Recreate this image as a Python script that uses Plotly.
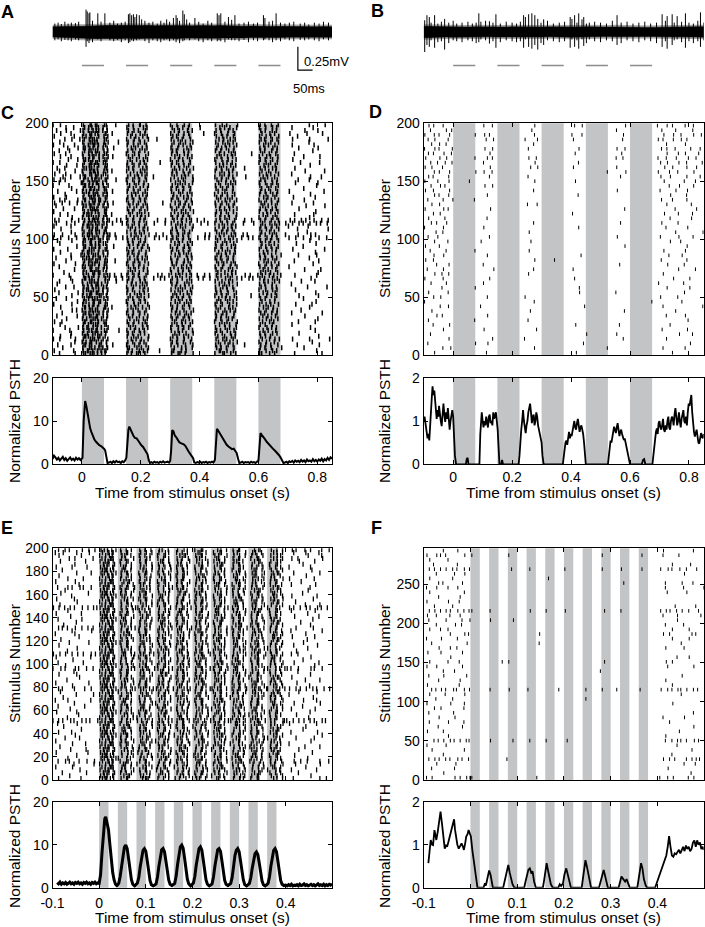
import plotly.graph_objects as go

W, H = 705, 927
FONT = "Liberation Sans, Arial, Helvetica, sans-serif"
GRAY = '#c3c4c6'

# stimulus timing
CD_STIM_ON = [0.0, 0.15, 0.30, 0.45, 0.60]
CD_STIM_DUR = 0.075
EF_STIM_ON = [0.0, 0.04, 0.08, 0.12, 0.16, 0.20, 0.24, 0.28, 0.32, 0.36]
EF_STIM_DUR = 0.02

CD_XRANGE = [-0.1, 0.85]
EF_XRANGE = [-0.1, 0.499]
CD_XTICKS = [0, 0.2, 0.4, 0.6, 0.8]
CD_XTEXT = ['0', '0.2', '0.4', '0.6', '0.8']
EF_XTICKS = [-0.1, 0, 0.1, 0.2, 0.3, 0.4]
EF_XTEXT = ['-0.1', '0', '0.1', '0.2', '0.3', '0.4']

# ---------------- A / B : raw traces (mV) ----------------
ENV_T = [-0.1, -0.075, -0.05, -0.025, 0.0, 0.025, 0.05, 0.075, 0.1, 0.125, 0.15, 0.175, 0.2, 0.225,
         0.25, 0.275, 0.3, 0.325, 0.35, 0.375, 0.4, 0.425, 0.45, 0.475, 0.5, 0.525, 0.55, 0.575,
         0.6, 0.625, 0.65, 0.675, 0.7, 0.725, 0.75, 0.775, 0.8, 0.825, 0.85]
A_HI = [0.055, 0.06, 0.058, 0.062, 0.06, 0.065, 0.07, 0.068, 0.072, 0.07, 0.066, 0.07, 0.068, 0.072,
        0.066, 0.07, 0.068, 0.065, 0.07, 0.066, 0.068, 0.064, 0.066, 0.068, 0.064, 0.066, 0.062, 0.064,
        0.06, 0.062, 0.058, 0.06, 0.058, 0.056, 0.06, 0.058, 0.056, 0.058, 0.055]
A_LO = [-0.055, -0.058, -0.06, -0.058, -0.062, -0.068, -0.072, -0.07, -0.068, -0.072, -0.068, -0.066,
        -0.07, -0.068, -0.072, -0.066, -0.068, -0.07, -0.066, -0.068, -0.064, -0.066, -0.068, -0.064,
        -0.066, -0.062, -0.064, -0.06, -0.062, -0.06, -0.058, -0.06, -0.056, -0.058, -0.06, -0.056,
        -0.058, -0.055, -0.056]
B_HI = [0.06, 0.058, 0.055, 0.058, 0.054, 0.056, 0.052, 0.055, 0.053, 0.056, 0.054, 0.052, 0.055, 0.053,
        0.056, 0.054, 0.052, 0.055, 0.053, 0.056, 0.054, 0.052, 0.055, 0.053, 0.05, 0.052, 0.054, 0.05,
        0.052, 0.05, 0.048, 0.05, 0.052, 0.055, 0.053, 0.056, 0.054, 0.056, 0.055]
B_LO = [-0.062, -0.058, -0.056, -0.054, -0.057, -0.055, -0.053, -0.056, -0.054, -0.052, -0.055, -0.057,
        -0.053, -0.055, -0.052, -0.056, -0.054, -0.052, -0.055, -0.053, -0.056, -0.054, -0.052, -0.055,
        -0.053, -0.05, -0.052, -0.054, -0.05, -0.052, -0.05, -0.048, -0.052, -0.054, -0.056, -0.053,
        -0.055, -0.054, -0.056]

A_SPK_T = [0.014, 0.018, 0.024, 0.027, 0.054, 0.078, 0.158, 0.163, 0.169, 0.175, 0.180, 0.186, 0.195, 0.203,
           0.288, 0.311, 0.320, 0.324, 0.343, 0.348, 0.356, 0.384, 0.460, 0.466, 0.472, 0.498, 0.520, 0.617,
           0.622, 0.660,
           -0.092, -0.081, -0.07, -0.058, -0.047, -0.036, -0.022, -0.011, 0.036, 0.065, 0.095, 0.108, 0.121,
           0.134, 0.147, 0.214, 0.228, 0.241, 0.256, 0.268, 0.279, 0.298, 0.332, 0.366, 0.397, 0.412, 0.428,
           0.441, 0.486, 0.509, 0.534, 0.551, 0.566, 0.583, 0.597, 0.636, 0.648, 0.675, 0.69, 0.705, 0.72,
           0.742, 0.757, 0.771, 0.79, 0.806, 0.821, 0.838]
A_SPK_TOP = [0.24, 0.22, 0.2, 0.21, 0.2, 0.2, 0.19, 0.2, 0.18, 0.19, 0.16, 0.19, 0.18, 0.135, 0.135, 0.15,
             0.18, 0.15, 0.23, 0.19, 0.135, 0.15, 0.2, 0.18, 0.2, 0.16, 0.18, 0.18, 0.15, 0.2,
             0.09, 0.1, 0.085, 0.11, 0.09, 0.1, 0.095, 0.11, 0.12, 0.11, 0.1, 0.12, 0.09, 0.1, 0.11,
             0.12, 0.1, 0.11, 0.09, 0.12, 0.1, 0.11, 0.12, 0.1, 0.11, 0.09, 0.12, 0.1, 0.11, 0.13, 0.09,
             0.1, 0.11, 0.09, 0.1, 0.11, 0.12, 0.1, 0.09, 0.1, 0.11, 0.09, 0.1, 0.08, 0.1, 0.09, 0.11, 0.1]
A_SPK_BOT = [-0.16, -0.1, -0.12, -0.09, -0.08, -0.07, -0.12, -0.11, -0.09, -0.1, -0.08, -0.09, -0.08, -0.07,
             -0.08, -0.09, -0.11, -0.08, -0.1, -0.09, -0.07, -0.08, -0.1, -0.09, -0.1, -0.08, -0.09, -0.09,
             -0.08, -0.09,
             -0.09, -0.08, -0.1, -0.085, -0.09, -0.1, -0.08, -0.09, -0.11, -0.1, -0.09, -0.1, -0.085, -0.11,
             -0.09, -0.1, -0.12, -0.09, -0.1, -0.11, -0.09, -0.1, -0.12, -0.09, -0.1, -0.11, -0.09, -0.1,
             -0.11, -0.09, -0.1, -0.085, -0.11, -0.09, -0.1, -0.09, -0.11, -0.1, -0.08, -0.09, -0.1, -0.085,
             -0.09, -0.08, -0.09, -0.1, -0.08, -0.09]

B_SPK_T = [-0.0966, -0.089, -0.081, -0.063, -0.029, 0.087, 0.094, 0.123, 0.145, 0.239, 0.245, 0.256, 0.267,
           0.277, 0.287, 0.307, 0.397, 0.403, 0.412, 0.426, 0.437, 0.443, 0.462, 0.556, 0.709, 0.726, 0.743,
           0.760, 0.788, 0.839,
           -0.075, -0.052, -0.04, -0.015, 0.0, 0.012, 0.03, 0.05, 0.065, 0.078, 0.11, 0.135, 0.16, 0.18,
           0.2, 0.215, 0.228, 0.298, 0.32, 0.34, 0.36, 0.378, 0.42, 0.452, 0.48, 0.5, 0.52, 0.54, 0.57,
           0.59, 0.61, 0.63, 0.65, 0.67, 0.69, 0.72, 0.75, 0.775, 0.8, 0.815, 0.83, 0.85]
B_SPK_TOP = [0.125, 0.18, 0.16, 0.18, 0.14, 0.2, 0.11, 0.115, 0.19, 0.18, 0.16, 0.19, 0.2, 0.18, 0.14, 0.135,
             0.16, 0.14, 0.18, 0.2, 0.135, 0.16, 0.1, 0.18, 0.19, 0.17, 0.19, 0.17, 0.2, 0.21,
             0.1, 0.09, 0.11, 0.1, 0.12, 0.09, 0.1, 0.11, 0.09, 0.1, 0.12, 0.1, 0.09, 0.11, 0.1, 0.09,
             0.11, 0.1, 0.12, 0.09, 0.1, 0.11, 0.1, 0.09, 0.11, 0.1, 0.09, 0.12, 0.1, 0.11, 0.09, 0.1,
             0.11, 0.09, 0.1, 0.12, 0.1, 0.11, 0.1, 0.09, 0.12, 0.1]
B_SPK_BOT = [-0.215, -0.14, -0.16, -0.17, -0.19, -0.11, -0.08, -0.125, -0.17, -0.17, -0.08, -0.16, -0.18,
             -0.14, -0.19, -0.14, -0.17, -0.08, -0.16, -0.18, -0.08, -0.15, -0.08, -0.14, -0.16, -0.18,
             -0.14, -0.08, -0.17, -0.16,
             -0.09, -0.11, -0.1, -0.12, -0.09, -0.1, -0.11, -0.09, -0.1, -0.12, -0.09, -0.1, -0.11, -0.09,
             -0.1, -0.11, -0.1, -0.12, -0.09, -0.1, -0.11, -0.1, -0.09, -0.12, -0.1, -0.11, -0.09, -0.1,
             -0.12, -0.09, -0.1, -0.11, -0.09, -0.1, -0.12, -0.1, -0.09, -0.11, -0.1, -0.12, -0.1, -0.09]

SCALE_MV = 0.25
SCALE_S = 0.05

# ---------------- rasters ----------------
# each row = group of trials; space separated segments starting at the bin given in *_SEG_START;
# a digit marks a spike at (bin start + digit ms), '.' no spike, '-' an empty segment
CD_SEG_START = [0, 10, 19, 25, 34, 40, 49, 55, 64, 70, 79]
CD_BIN = 0.01
EF_SEG_START = [0, 20, 28, 36, 44, 52, 60, 68, 76, 84, 92, 100]
EF_BIN = 0.005

C_ROWS = [
    "..4....7.. 62851379. - 38.62.4.. - 5.73.1.8. - 2.94.6.3. - 41.8.5... ...3........6...",
    "6......2.. 4917.3582 - 7.1.59.3. ..4... 62.8.4... - .71.3.5.. - 3.6.8.2.. ..........8.....",
    "...5...... 3.6248.17 - 51.7.2.6. - .4.9.3.5. - 8.3.1.7.. - 6.2.4..9. ......5.........",
    ".8....3... 7263.95.4 .5.... 2.9.4.8.. - 3.6..2.7. - 5.1.7.4.. .3.... 8.5.2.6.. ....2......7....",
    ".......6.. 14829.6.3 - 6.3.8.1.. - 7.2.5.9.. - .4.6.3.8. - 2.7..4... .........3......",
    "3.5....8.. 5.9736.28 - .8.4.2.5. - 1.5.8..3. - 6.9.2.4.. - .3.8.6.1. ..6.....4......2",
    "..7...2... 8326.419. - 4.6.1..7. - 9.3.6.2.. - .2.5.8.1. - 7.4.1.... ...........5....",
    "......4... 29.7546.1 - 7.2.9.3.. - .6.1.4.8. - 3.7..5.2. - 5.2.8.3.. ....8...........",
    "2....9.... 6.4381.75 ...6.. 3.8.5.2.. - 4.7.2..6. - 8.1.4.7.. - .6.3.9... ..........3.....",
    "....3...8. 3718.26.9 - .5.2.7.4. - 2.8.6.3.. - 4..7.2.5. - 2.9.5.1.. ........7.......",
    "..6....... 5.2974.83 - 9.4..6.1. - 6.3.1.8.. - .8.5.2.4. - 6.3.7.... ..4.............",
    "7..2...... 8193.6.52 - 4.7.3.5.. - .5.9.2.6. - 1.6.3..8. - .4.8.2.. ....6.....3.....",
    "....8..... 26.8537.4 - .3.6.9.2. - 7.1.4.5.. - 5.2.8.1.. - 3.7.4.6.. ...........2....",
    ".5......4. 4.6192.37 - 8.2.5..4. - 3.6.9.2.. - 7.4.1.6.. - .5.2.8... ......8.........",
    "...3...... 7349.8.25 - 2.5.7.3.. - .8.3.5.1. - 4.9.2.7.. - 8.1.5.3.. ..3.........7...",
    "......7.2. 1.8563.49 - 6.4.1.8.. - 5.2.7..9. - .3.6.4.2. - 2.6.9.4.. .....5..........",
    "..8....... 9256.3.71 .2.... .7.3.6.9. - 8.4.2.6.. - 6.1.9.3.. - .7.3.1... ........4......",
    "4.....6... 3.4817.96 - 5.8.2..4. - 2.5.8.3.. - 3.7..2.6. - 4.6.2.8.. ...7.....2......",
    "........5. 64.9283.1 - 1.6.9.5.. - .7.3.6.1. - 9.2.5.4.. - .2.9.5... ..........6.....",
    ".3..7..... 8.3642.58 - 7.3.4.2.. - 4.8.1.7.. - .5.8.3.6. - 7.3..6... ......3.........",
    "......6... 2761.95.3 - .4.8.1.7. - 9.2.5.4.. - 2.6.1.8.. ...5.. 3.8.4.2.. ....8......4....",
    "..2.....7. 5.8394.26 - 3.9.6.2.. - .6.4.8.3. - 8.3.7..5. - .6.1.7... ..........5.....",
    "8......... 4629.7.18 - 6.2..8.5. - 3.7.2.9.. - 5.1.4.6.. - 2.5.8.3.. ...6............",
    "....5..3.. 7.1586.43 - 2.5.7.3.. - .8.5.1.6. - 4.9.2.3.. - 9.4.6.1.. .......7......3.",
    ".6........ 39.2847.6 - .8.4.6.1. - 6.2.9.4.. - .7.5.1.8. - 4.2.7.... ..2.............",
    "..4...8... 1.7425.98 ..7... 4.1.8.5.. - 2.5..7.3. - 3.6.9.2.. - .8.3.5.1. .....6....2.....",
    "......2... 8354.6.91 3.6.8. 9.3.6.2.. 4.7.1. 7.4.1.6.. 6.2.5. .2.8.4.7. 3.8.1. 5.1.8.4.. ........9.......",
    "2....7.... 6.2918.57 5.1.4. 3.7.2.8.. .8.2.6 .9.3.5.2. 2.7.4. 7.3.6.1.. .5.2.8 .3.7.2.6. ...4......8.....",
    "...9...... 45.7361.2 - 7.2.5..4. - 4.8.2.7.. - .2.6.9.3. - 8.4.1.5.. ...........3....",
    ".......5.. 7.9285.34 - .5.1.9.3. - 1.7.4.3.. - 6.3.8.2.. - .6.3.9... ......7.....2...",
    "..3....... 2184.7.65 - 8.6.3.1.. - .3.9.6.2. - 3.8..4.7. - 5.2.6.3.. .4..............",
    "5......8.. 5.3649.72 - 2.4.7..6. - 7.1.5.8.. - .4.2.7.1. - 1.7.4.9.. .........6......",
    "....6..... 9.4172.86 ..3... 6.9.2.4.. - 5.3.8.1.. - 8.6.3.5.. - .9.3.6... ...2.......5....",
    ".2....4... 3657.82.1 - .3.8.5.2. - 2.6..9.4. - 3.1.7.4.. - 6.4.8.2.. ........3.......",
    "......3..7 8.2965.47 - 5.7.1.6.. - .7.3.5.2. - 9.4.1.6.. - 4.1.5..7. ....6.....8.....",
    "..7....... 1943.6.28 - 9.1.4.8.. - 4.9.6.2.. - .5.8.3.1. - .7.2.9... ..........4.....",
    "4....2.... 6.5318.94 - 3.6..2.9. - 8.2.4.7.. - 2.7.5.9.. - 3.8.6.1.. ..7..........5..",
    "........3. 72.4691.5 .8.... .2.9.6.4. - 1.5.8.3.. - 6.3..8.2. - 9.5.3.7.. ......2.........",
    "..5....... 4.8267.31 - 8.4.3.1.. - .6.1.9.5. - 4.8.2.6.. - .2.6.4... ...9......6.....",
    ".7....6... 5192.83.7 - 6.2.9.5.. - 3.7.2.8.. - .1.6.4.7. - 7.4.1.8.. ........5.......",
    "3.8..5..2. 8.3746.25 2.6.9. 4.8.1.6.. 7.3.8. 9.2.5.3.. 4.8.2. 5.1.9.4.. 3.6.1. 2.9.5.3.. .4.7..3.8..6..2.",
    "6..4...7.. 2965.1.48 5.3... .7.4.2.8. .2.6.. 6.8.3.1.. ..9.4. .7.3.8.2. 8.2... 6.3.7.1.. 2...5...8.4.....",
    "......4... 7.4289.63 - 3.9.6.2.. - 2.4.9.6.. - 8.5.2.7.. - .1.8.4... .......6........",
    "..9....... 1.6573.92 - .5.2.8.4. - 7.1.3..5. - 3.9.6.1.. - 5.7.3.9.. ....3.........7.",
    "5.....3... 3847.29.5 - 7.1.5.3.. - .9.5.2.8. - .6.4.8.3. - 8.3.6.2.. .2.....9........",
    ".3..8..6.. 6.2178.54 .4..7. 2.8.4.9.. 6...3. 4.6.1.7.. .5.8.. 2.7.5.3.. 9...4. .4.9.6.1. 3.6.8.2.5.7.1.4..",
    "8.2...5.9. 9.5634.17 3.8.2. 6.3.7.1.. .7..4. .3.8.5.2. 2.6... 6.1.3.9.. .3.7.. 7.2.4.8.. .8.3.6.1.9..5.7.",
    "......7... 2.3986.45 - 1.6.9.5.. - 8.4.2.6.. - .9.6.1.4. - 2.5.9.3.. ........4.......",
    "..6..2.... 5742.8.93 .1.... .4.8.3.7. - 3.7.5.1.. - 4.2.8..6. - .6.1.7... ...3.....8......",
    "4......... 8.1465.72 - 9.2.6.4.. - .5.8.3.9. - 7.3.1.5.. - 3.8.2.6.. ..........5.....",
    "...7...5.. 3.9721.84 - 5.7..1.3. - 6.2.4.8.. - .8.5.2.7. - 6.4.7.1.. ....8...........",
    ".2........ 6481.5.29 - .3.6.8.2. - 1.9.7.3.. - 5.1.9.4.. - .5.3.8... .......2.....6..",
    "7..3.8..4. 1.5839.67 .6.... 8.4.2.6.. ...5.. .7.4.1.5. - 3.6.2.8.. - 9.1.5.4.. ..4......7......",
    "..5.2...6. 92.6573.1 - 2.6.9.3.. - 4.8..6.2. - .4.7.3.6. - 2.7.4.8.. ......6.........",
    "4...7..... 4.7218.95 - 6.1.5.8.. - 9.3.6.1.. - 8.2.5.1.. - .8.2.6... ..9.......3.....",
    "....3..... 7.3954.26 - .9.3.7.2. - .2.5.8.4. - 1.7.4.9.. - 4.6.9.2.. ........7.......",
    ".8......2. 2569.1.84 .4.... 4.7.1.5.. - 5.9.3.7.. - .3.6..2. - 7.3.1.5.. .5...........3..",
    "......5... 5.8137.62 - 7.5.8..3. - 3.1.6.9.. - 6.8.2.4.. - .1.5.9... ......4.........",
    "2....6.... 8246.7.39 - .2.4.9.6. - 7.6.2.4.. - 4.1.7.3.. - 5.9.3.7.. ..........8.....",
    "..3......8 3.6892.14 - 4.8.3.1.. - .8.4.1.6. - .5.9.6.2. - 3.4.8.2.. ...6.......2....",
    "5.7.3..... 6.1548.93 ..6... 1.3.6.9.. - 2.7.5..8. - 9.4.1.6.. - 8.2.6.4.. ....5...3.......",
    "...6..2..4 92.3716.8 - 6.9.2.5.. 3..... .4.9.2.7. - 2.6.8.3.. .7.... .6.1.5... ........7...4...",
    "8...5..... 4.7265.31 - .5.8.4.1. - 6.3.8.2.. - .9.4.1.7. - 4.7.2.8.. ..3.............",
    "..4....7.. 1.8934.57 .2.... 2.6.9.4.. - 8.1.4.7.. - 3.6.9.2.. - .2.5.9... ......9......5..",
    ".6..2..... 7563.2.84 - 9.3..7.1. - .5.2.6.9. - 7.4.2.5.. .3.... 6.3.8.1.. ...4...........",
    "....8...3. 3.5127.96 - 3.7.4.8.. - 4.9.7.3.. - .8.1.6.3. - .9.4.7... ........6.......",
    "2.5....... 8.9472.31 - 5.1.8.2.. ..6... 7.2.5.8.. - 5.9.3.1.. - 2.6.1.4.. .....3.....8....",
    ".....4..6. 6237.9.85 - .4.6.9.3. - 1.8.3.6.. - 2.6.7..4. - 6.3.8.5.. ..7.............",
    "..7...3... 4.6718.29 .5.... 8.2.5.7.. - .6.2.9.4. - 9.3.5.2.. - 3.8.1.6.. ......4....9....",
    "6...5..... 2.3589.74 - 1.9.3..6. - 5.4.8.1.. - .7.4.8.1. ...7.. .4.7.9... ...2...........",
    "..3..8.... 9.4163.58 - 6.3.7.4.. - 8.1.6.3.. - 4.2.9.5.. - 7.1.5.3.. .........5......",
    ".....2..7. 5178.4.26 .8.... .8.2.5.1. - 3.6..7.2. - 8.5.1.7.. - 5.2.9.4.. ....7......3....",
    "3..8...5.. 7.2936.41 - 4.6.1.9.. - 6.9.4.8.. - .3.7.2.6. - .8.4.6... ..5......9......",
    "..5....... 3.8542.69 ...4.. 7.5.8.3.. - .3.5.2.7. - 5.9.6.4.. - 3.5.2.8.. ........2......",
    "....2.6..3 8.5621.73 - 2.8.4..6. .5.... 4.7.1.9.. - .6.2.4.1. - 9.1.7.3.. ..6.....4.....7.",
    "6......4.. 2491.7.58 - .6.3.7.2. - 9.2.5.6.. - 7.8.3.5.. - 4.6.2.9.. ....3...........",
    "..8...3... 6.7354.92 .3.... 5.1.8.4.. - 2.8.7.3.. ..4... 1.4.6.9.. - .2.9.5... .7.....5....8...",
    ".4..7....5 4.2897.16 - 8.7.2.6.. - .4.1.9.5. - 6.2.8.4.. - 8.3.7.1.. ......8....2....",
    "....6..2.. 9.3486.25 - 3.5..9.1. - 7.6.3.2.. .2.... .9.5.3.6. - 3.5.8.2.. ..4......6......",
    "2.7....... 5.8261.73 ..5... 9.4.6.8.. - 1.3.8.5.. - 4.7.2..9. - 6.2.4.7.. ........3....7..",
]

D_ROWS = [
    "...7...... - ..3... - ...... - ..8... - ...... - .....4..........",
    "......5..2 - ...... - ...6.. - ...... .......3. ...... - ..2......7......",
    ".4........ .......6. ..8... - ...... - .....2 - ...... - ...........5....",
    "........6. - ....4. - 2..... - ...... - ...7.. - ...4............",
    "..3....... - ...... - ...... - ...... 3........ .5.... - .......8....2...",
    "......7... - .5.... - ....3. - ...... - ...... - .9........5.....",
    "...2....8. - ...... - ...... - ..6... - ..4... - ....6...........",
    ".6........ .......3. ...... - .4.... - ...... - ...... - ..........7.....",
    "....5.3... - ..7... - ...... - ...... - ...... - ...3.....8......",
    "..8....... - ...... - ..2... - ...... - ....1. - ......5.........",
    ".....6..4. - 3..... - ...... - .....6 - ...... - ..2............7",
    "3......... - ...... - ...5.. - ...... - ...... .......4. ........6.......",
    "...4.8.... - ..6... - 4..... - ...... - ...... - .4.....2........",
    ".7......3. - ...... - ...... - ...9.. - .2.... - .........5......",
    "......2... .......5. ...... - ...... - ...8.. - ...... - ...6.......3....",
    "..5....7.. - .3.... - ...... - ...... - ...... - 7........2......",
    "4.....6... - ...4.. - ...... - ..2... - ...... - .....8.....3....",
    "...8..2.5. - ...... - .6.... - ...... - ...... - ..3.............",
    ".2....7... - ....8. - ...3.. - .7.... - ...... - .......5.....2..",
    "....4...6. - .2.... - ...... - ...... - ..5... - ...8.....4......",
    "7..3...... - ...... - ...7.. ....4.... ...... - ...... - .6........3.....",
    "...5..8... - ..6... - ...... - ....4. - ...... - ....2...7.......",
    "..2....6.. .......4. ...... - .8.... - ...... - ...... - ..5......8......",
    "6....3.... - ...... - ...... - ...... - ....3. - ..........4.....",
    "...7....2. - 5..... - ..4... - ...... - ...... - ....7...2......",
    ".5..8..... - ...3.. - ...... - ...... - .7.... - .3.....6....4...",
    "....2.5... - ...... - .8.... - ...... - ...... - ......5........8",
    "3.....7... - .4.... - ...... - ...6.. - ...... - ...2......6.....",
    "..6.4..8.. - ...... - ...3.. - ...... - ..8... - .8.....3........",
    ".7.....2.. - ..5... - ...... - ...... - ...... - ....6......9....",
    "...3.6.... - ...... - ...... - .5.... - ...... - ..7....4....2...",
    "5.....8.3. - ...7.. - ...... - ...... - ....2. - ......3......6..",
    "..8..4.... - ...... - .2..5. - ...... - ...... - ...5.......8....",
    ".4....6..9 .......2. ...... - ...... - ...... - ...... - .7...4....3.....",
    "...7.2..5. - ..6... - ...... - ...4.. - ...... - ....8.....2.....",
    "6..3....8. - ...... - ...3.. - ...... - .7.... - .2....6...5.....",
    "..5..7.2.. - .8..4. - ...... - ...... - ...... - ....3..8....6...",
    "4...8...6. .....5... ...... - ...7.. - ..5... - ...... - ..6......4...2..",
    ".7.2....5. - ...3.. - .4.... - ...... - ..8... - .5..7.....3...8.",
    "...6.3..8. .......7. .5..2. - ...... - ...... .......3. ....6. - 6...4..2....7...",
    "5.8...4... - ...6.. - ..3.7. - .8.... - .5.... - ..8..5....3..6..",
    "..4.7..3.6 - .3.... - ...8.. - ...5.. - ...... - .4.7...6..2....5",
    "7....5.8.. .......4. ..6.3. - .7..2. - ...... - .3.6.. - 5..3..7...8..4..",
    ".6.3..9..4 - ...5.. - ...... - ..4... - ...2.. - ...6...4.8....3.",
    "3..8.2...7 - .8..4. - .5.... - ...7.. - .6..3. - .7.5..3....6..8.",
    "..7..4.6.. - ...... - ...3.. - ...... - ...... - ...4.....8......",
    ".5.8....3. - ..2.7. - 4...6. - .8.... - ...5.. - 6.2..7..4.3.....",
    "4..6.2..8. .......5. .7.3.. - ...6.. - .3..7. - ...8.. - ..5..8..3...6..2",
    "..3....7.5 - ...... - ..7... - ...... - .4.... - .8....5.....3...",
    ".8.4..6... - .4..3. - ...7.. - ..2.8. - ....5. - 3..6.4...7..5...",
]

E_ROWS = [
    "..3.........1....... .2314.1. .2.41... ..3.20.. .1.3.4.. 3.2..1.. .4.0.3.. ..21.4.. .3..24.. .0.42... ..4.1.3. ...1..........3..2..",
    ".......2............ 3.12.40. ..3.20.. .4.0.3.. .3..24.. ..4.1.3. .2.3..1. 1..4.2.. ..0.3.2. .2.41... .4..1.3. ..........4.........",
    "....1.........3..... .4021.3. .1.3.4.. .3..24.. ..21.4.. .2.3..1. .0.42... .3.1..4. .4.0.3.. ..3.20.. .1.3.4.. .....2..............",
    "...........4........ 2.341.0. .3.1..4. .2.41... 3.2..1.. .4..1.3. ..0.3.2. .1.3.4.. ..4.1.3. .3..24.. 1..4.2.. ..2..........1......",
    ".2......3........... .13.420. .4.0.3.. ..4.1.3. .0.42... 1..4.2.. .3..24.. ..3.20.. .2.3..1. .4..1.3. ..21.4.. ........3...........",
    ".........1.......4.. 1.4.23.. ..21.4.. 1..4.2.. .2.3..1. .3..24.. .4.0.3.. .0.42... .1.3.4.. ..0.3.2. .3.1..4. ....1.........4.....",
    "..2..3.1...2..4...0. .2.4130. .0.42... .2.41... .4..1.3. .1.3.4.. ..21.4.. .3.1..4. ..3.20.. 3.2..1.. .2.3..1. ...3..2..1....3...2.",
    "......3............. 4.13.2.1 1..4.2.. .3.1..4. ..3.20.. .4.0.3.. .2.41... ..4.1.3. .0.42... .1.3.4.. .3..24.. .........2..........",
    "..........2......... .2314.1. .4..1.3. ..0.3.2. .1.3.4.. .3..24.. 3.2..1.. .2.41... ..21.4.. .4.0.3.. .0.42... ...4................",
    ".3.............1.... 3.12.40. .3..24.. 3.2..1.. ..4.1.3. .0.42... .1.3.4.. .4..1.3. .2.3..1. ..21.4.. ..3.20.. ...........2.......",
    ".......4......2..... .4021.3. ..4.1.3. .0.42... .3.1..4. ..21.4.. .2.41... 1..4.2.. .3..24.. .2.3..1. .4.0.3.. .....3.............",
    "...1................ 2.341.0. .2.3..1. .1.3.4.. .4.0.3.. ..3.20.. .3..24.. .0.42... .4..1.3. 3.2..1.. .2.41... ........1.....3.....",
    "........3.....1..... .13.420. .0.42... ..21.4.. .2.41... .3.1..4. ..4.1.3. .4.0.3.. 1..4.2.. .1.3.4.. .3..24.. .2.................",
    ".2.................. 1.4.23.. .3.1..4. .4..1.3. 1..4.2.. .2.3..1. ..3.20.. .3..24.. .2.41... ..0.3.2. .4.0.3.. ..........4.........",
    ".....2.....3........ .2.4130. .1.3.4.. ..3.20.. .3..24.. .4.0.3.. .0.42... .2.3..1. ..4.1.3. .3.1..4. 1..4.2.. ....2.......1.......",
    ".........4.......... 4.13.2.1 .2.41... .3..24.. ..21.4.. 1..4.2.. .4..1.3. ..3.20.. .0.42... .2.3..1. ..4.1.3. ...............3....",
    "..3.....1........... .2314.1. ..21.4.. .4.0.3.. .2.3..1. ..4.1.3. .3.1..4. .1.3.4.. .3..24.. .0.42... .2.41... ..1..........3......",
    "............2....... 3.12.40. .4.0.3.. .2.41... .0.42... .3..24.. .1.3.4.. ..21.4.. .4..1.3. .2.3..1. ..3.20.. .......2............",
    "....4............... .4021.3. ..3.20.. .3.1..4. .4..1.3. .0.42... 1..4.2.. .2.41... ..4.1.3. .1.3.4.. .3..24.. ........3...........",
    "..1.......3......... 2.341.0. .0.42... ..4.1.3. .1.3.4.. .2.41... .3..24.. .4.0.3.. ..21.4.. ..3.20.. .3.1..4. .3...........1......",
    "1.3.2..4.1..3.2.0..2 .13.420. .3.4.2.. 2.1.3.4. .4.0.3.1 .2.41.3. 3.2..1.4 .1.3.4.2 2.4.1.3. .0.42..1 .3.1..42 2..1.3.4..2.1..3.0...",
    "......2............. 1.4.23.. .4..1.3. 1..4.2.. .3..24.. ..21.4.. .2.3..1. .0.42... .1.3.4.. .4.0.3.. .2.41... .........4..........",
    "...........1........ .2.4130. ..4.1.3. .2.3..1. .2.41... .4.0.3.. .3.1..4. .3..24.. ..0.3.2. 1..4.2.. .1.3.4.. ....3...............",
    ".4........2......... 4.13.2.1 .1.3.4.. .0.42... ..3.20.. .3..24.. .4..1.3. ..21.4.. .2.41... .3.1..4. .0.42... ..........2.........",
    ".......3............ .2314.1. .3..24.. .4.0.3.. .3.1..4. .1.3.4.. ..4.1.3. 1..4.2.. .2.3..1. ..21.4.. .4..1.3. ..2.........3.......",
    "..2..........4...... 3.12.40. .2.41... ..21.4.. .0.42... .2.3..1. .3..24.. .4.0.3.. ..3.20.. .1.3.4.. ..4.1.3. .......1............",
    ".........2.......... .4021.3. .4.0.3.. .3.1..4. 1..4.2.. ..4.1.3. .2.41... .1.3.4.. .3..24.. .0.42... ..21.4.. ...3..........4.....",
    ".1....3.........2... 2.341.0. ..21.4.. .2.3..1. .4..1.3. .3..24.. .0.42... ..3.20.. .4.0.3.. .2.41... .3.1..4. .......3.....1......",
    "....3............... .13.420. .0.42... .1.3.4.. ..4.1.3. .4.0.3.. .3.1..4. .2.41... 1..4.2.. .3..24.. .2.3..1. ...........4........",
    "..........1......3.. 1.4.23.. .3..24.. ..3.20.. .2.41... .0.42... ..21.4.. .4..1.3. .1.3.4.. ..4.1.3. .4.0.3.. .2.................",
    "...2................ .2.4130. 1..4.2.. .4..1.3. .3..24.. .2.3..1. .1.3.4.. .0.42... .3.1..4. .4.0.3.. ..3.20.. .....3.......2......",
    "..3.1....2...4..3... 4.13.2.1 .2.3..12 .4.0.3.1 3.2..1.4 .3..24.0 .2.41..3 2.4.1.3. .0.42..1 ..3.20.4 1..4.2.3 .3..2.1.4..3.1..2.4.",
    "........3........... .2314.1. .4.0.3.. .0.42... .1.3.4.. ..21.4.. .3..24.. .2.41... .4..1.3. .3.1..4. ..4.1.3. ..........1.........",
    ".2.............3.... 3.12.40. .3.1..4. .2.41... .4.0.3.. .1.3.4.. ..3.20.. .3..24.. .0.42... ..21.4.. .2.3..1. ....4...............",
    "......1............. .4021.3. ..4.1.3. .3..24.. .2.3..1. .4..1.3. .0.42... ..21.4.. .1.3.4.. .2.41... .4.0.3.. ........2.....3.....",
    "...........3........ 2.341.0. .1.3.4.. ..21.4.. .3.1..4. .0.42... .4.0.3.. .3..24.. .2.41... 1..4.2.. ..3.20.. ..3.................",
    "..4.......2......... .13.420. .2.41... .3.1..4. ..3.20.. .3..24.. .1.3.4.. .4.0.3.. ..4.1.3. .0.42... .2.3..1. ..........3.........",
    ".........1.......... 1.4.23.. .0.42... .4.0.3.. ..21.4.. .2.41... .3..24.. .2.3..1. .3.1..4. .4..1.3. .1.3.4.. .....1..............",
    "1..3.2...4.1..3..2.. .2.4130. .3..24.1 ..3.20.4 .1.3.4.2 .4.0.3.. .2.41..3 .0.42..1 ..21.4.. .3.1..4. 1..4.2.3 3.1..2....4.1..3....",
    ".....3.............. 4.13.2.1 .4..1.3. .2.41... .0.42... ..4.1.3. ..21.4.. .3.1..4. .4.0.3.. .3..24.. .2.3..1. ............2.......",
    "..2..........1...... .2314.1. .1.3.4.. ..4.1.3. .3..24.. .2.3..1. .4.0.3.. ..3.20.. .0.42... .2.41... .3.1..4. ...3..........1.....",
    "........4........... 3.12.40. .2.3..1. .3..24.. ..4.1.3. .4..1.3. .1.3.4.. .2.41... ..21.4.. .0.42... .4.0.3.. .......2............",
    ".3..............2... .4021.3. .3.1..4. .0.42... .2.41... .3..24.. ..3.20.. .4..1.3. .1.3.4.. ..4.1.3. ..21.4.. ..........4.........",
    "2..1.3..2.4..1..3.2. 2.341.0. ..21.4.1 .4.0.3.2 .3..24.. .2.3..1. .0.42..3 .1.3.4.. .3.1..4. .2.41..2 .4..1.3. ..2..1..............",
    "......2............. .13.420. .4.0.3.. .2.3..1. .1.3.4.. ..21.4.. .3.1..4. .0.42... .3..24.. ..3.20.. .2.41... ....3...............",
    "..........3......... 1.4.23.. .3..24.. .1.3.4.. ..3.20.. .0.42... .2.41... .4.0.3.. .4..1.3. .3.1..4. 1..4.2.. .........2..........",
    "..4................. .2.4130. .2.41... .3.1..4. .4..1.3. .1.3.4.. ..4.1.3. .3..24.. ..21.4.. .0.42... .2.3..1. ...2.........3......",
    ".......1.......3.... 4.13.2.1 .0.42... ..21.4.. .2.3..1. .4.0.3.. .3..24.. .1.3.4.. .3.1..4. ..4.1.3. .4..1.3. .......3............",
    "...3................ .2314.1. .4..1.3. .3..24.. .0.42... .2.41... .1.3.4.. ..21.4.. .4.0.3.. .2.3..1. ..3.20.. .........1..........",
    "...........2........ 3.12.40. .1.3.4.. .4.0.3.. .3.1..4. ..4.1.3. .2.3..1. .0.42... .2.41... .3..24.. ..21.4.. ..4.........2.......",
    ".1.......3.......... .4021.3. ..3.20.. .2.41... .3..24.. .4..1.3. .0.42... .3.1..4. .1.3.4.. .4.0.3.. ..4.1.3. ........3...........",
    "........2.......4... 2.341.0. .2.41... .0.42... .1.3.4.. .3.1..4. ..21.4.. .4..1.3. .3..24.. ..3.20.. .2.3..1. ..1............3....",
    "..3.1.2..4..3..1.2.. .13.420. .3..24.2 .1.3.4.. .4.0.3.1 ..21.4.3 .2.3..1. .3.1..4. .0.42..2 .4..1.3. .2.41... ....2......4........",
    "....4............... 1.4.23.. .4.0.3.. .3..24.. ..4.1.3. .1.3.4.. .3.1..4. .2.41... ..3.20.. .0.42... .4..1.3. ..........3.........",
    "..........1......... .2.4130. .1.3.4.. .2.3..1. ..21.4.. .3..24.. .4.0.3.. .0.42... .2.41... .3.1..4. ..3.20.. ......2.............",
    "..2.........3....... 4.13.2.1 ..21.4.. .4..1.3. .2.41... .0.42... .1.3.4.. ..3.20.. .3..24.. .2.3..1. .4.0.3.. ...........3........",
    ".......4............ .2314.1. .3.1..4. ..3.20.. .4.0.3.. .2.3..1. ..4.1.3. .3..24.. .0.42... .1.3.4.. .2.41... ...4..........1.....",
    ".3..........2....... 3.12.40. .0.42... .3..24.. .2.3..1. .4.0.3.. .3.1..4. ..21.4.. ..4.1.3. .2.41... .1.3.4.. .........2..........",
    "......3............. .4021.3. .4..1.3. .1.3.4.. .3..24.. ..21.4.. .2.41... .4.0.3.. .3.1..4. ..3.20.. .0.42... ..2.........3.......",
    "2.4..1.3.2..4..1.3.0 2.341.0. .2.3..13 3.2..1.. .4..1.3. .0.42..2 .3..24.. ..21.4.1 .1.3.4.. .4.0.3.. 1..4.2.. .3.2..1.4.2..3.1.4..1",
    "...1................ .13.420. .3..24.. ..4.1.3. .0.42... .1.3.4.. .2.3..1. .2.41... ..21.4.. .3.1..4. .4..1.3. ........2.....3.....",
    "..........3......... 1.4.23.. .2.41... .4..1.3. .1.3.4.. .3.1..4. .0.42... .3..24.. .4.0.3.. ..21.4.. ..3.20.. ....1...............",
    ".4.......2.......... .2.4130. ..4.1.3. .0.42... .4.0.3.. .2.41... .3..24.. .1.3.4.. ..3.20.. .2.3..1. .3.1..4. ...........4........",
    "........1........... 4.13.2.1 .4.0.3.. .3.1..4. ..21.4.. .4..1.3. .1.3.4.. .0.42... .2.41... .3..24.. ..4.1.3. ..3..........2......",
    "...3...........2.... .2314.1. .1.3.4.. .2.41... .3..24.. ..3.20.. .4.0.3.. ..4.1.3. .2.3..1. .0.42... ..21.4.. .......1............",
    ".....2.............. 3.12.40. .3.1..4. ..21.4.. .2.3..1. .4.0.3.. .0.42... .4..1.3. .1.3.4.. ..3.20.. .3..24.. .........3..........",
    "..1...3.2..4.1..3... .4021.3. .0.42..1 .3..24.. .1.3.4.2 .2.41... ..4.1.3. .3.1..4. .4..1.3. .2.3..1. ..3.20.. ..........2.........",
    "...........2........ 2.341.0. .4..1.3. .4.0.3.. .3..24.. .1.3.4.. .2.41... ..21.4.. .0.42... .3.1..4. .2.3..1. ..2.........4.......",
    ".2.......4.......... .13.420. ..3.20.. .1.3.4.. .0.42... .3.1..4. .3..24.. .2.3..1. ..4.1.3. .4.0.3.. .2.41... ......3.............",
    "......3......1...... 1.4.23.. .1.3.4.. .3..24.. ..4.1.3. .2.41... .4.0.3.. .0.42... ..21.4.. .4..1.3. .3.1..4. .3..........1.......",
    "..4................. .2.4130. .3..24.. .2.3..1. .4..1.3. .0.42... ..3.20.. .1.3.4.. .3.1..4. ..21.4.. .4.0.3.. ........4...........",
    "..........2.....3... 4.13.2.1 .2.41... .0.42... .1.3.4.. .3..24.. .2.3..1. .4.0.3.. ..4.1.3. .3.1..4. ..3.20.. ...2..........3.....",
    "....1............... .2314.1. .4.0.3.. ..4.1.3. .3.1..4. .2.41... .1.3.4.. .3..24.. .0.42... ..21.4.. .4..1.3. ...........1........",
    ".3......2.....4..... 3.12.40. ..21.4.. .3.1..4. .4..1.3. .1.3.4.. .0.42... .2.41... .3..24.. .2.3..1. .1.3.4.. .2........3.........",
    ".........3.......... .4021.3. .1.3.4.. .4..1.3. .2.3..1. .4.0.3.. ..4.1.3. ..3.20.. .2.41... .3..24.. .0.42... .......2............",
    "...2..........1..... 2.341.0. .0.42... .2.41... ..21.4.. .3.1..4. .4..1.3. .1.3.4.. .4.0.3.. ..3.20.. .3..24.. .....4......2.......",
    ".......1.3.......2.. .13.420. .3.1..4. .3..24.. .1.3.4.. .2.3..1. .4.0.3.. ..21.4.. .2.41... .0.42... ..4.1.3. ..3..1.........4....",
    "..4.........2....... 1.4.23.. .4.0.3.. .1.3.4.. .0.42... ..3.20.. .2.41... .3.1..4. .4..1.3. .2.3..1. .3..24.. .........3.....2....",
    ".1..3.....2....4.... .2.4130. .2.41... .4..1.3. .3..24.. .1.3.4.. ..21.4.. .0.42... .3.1..4. .4.0.3.. ..4.1.3. ...2....3.....1.....",
    "..3..2.1....4..3..1. 4.13.2.1 .1.3.4.. .2.3..1. .4.0.3.. .3..24.. .0.42... ..4.1.3. .2.41... ..3.20.. .4..1.3. ..4.2...1.3....2..3.",
]

F_ROWS = [
    ".1.3.........2.3..24 3....... - - ....2... - - - - - - .0..2.4......1.3...",
    "........3........... - - - - - - - - - - ..............2.....",
    "...2.........1...... - - - - - - - - - - ....3...............",
    ".....3.......4...... - - - - - - - - - - ...........2....1...",
    "..1.4.3..2.1..3.2..1 - .......3 - - - - - - - - ..3..1.2....2.4.3.0",
    "........2........... - - - - - - - - - - ......1.............",
    "...3.............2.. - - - - - - - - - - ..............4.....",
    ".2.......3.......... - - - - - - - - - - ........2...........",
    "....2.1.3..2.0.3..12 - 3....... ..1..... .2...... 2....... .2...... - - - - ...2..1.3.0.2..4.3..",
    "..........3......... - - - - - - - - - - ...3................",
    ".3......2........... - - - - - - - - - - .........2..........",
    "......1.........3... - - - - - - - - - - ...............3....",
    "..2.......3......1.. - - - - - - - - - - .....1..............",
    "......3......2...... - - - - - - - - - - ..2........3........",
    "..1.........4....... - - - - - - - - - - ...............2....",
    "....3..2.........1.. - - - - - - - - - - ....................",
    ".2.........3.....2.. - - - - - - - - - - ......3.............",
    ".....1......2....... - - - - - - .2...... - - - ....................",
    "..3......1.......3.. - - - - - - - - - - ..........1.........",
    "...2.1.3.2..4.0..2.3 - 2....... 3....... 3....... .....4.. - .2...... 2.....3. - 3....... .3..2.1.4.0.3..2.1.",
    ".3.............1.... - - - - - - - - - - ......2.............",
    "......2........3.... - - - - - - - - - - ...3................",
    "..1.....3.........2. - - - - - - - - - - ..........3.........",
    "........2....1...... - - - - - - .......3 - - - ....................",
    ".2...3..........3... - - - - - - - - - - ....2..........3....",
    "..3.......2....1.... - .....3.. 2....... - - - - .2...... - - ...4..2...........",
    "...........3........ - - - - - - - - - - ........2....3.....",
    ".4.....2........3... - - - - - - - - - - ....................",
    "......3....2..1..... - - - - - - - - - - ...3.......2.......",
    "...2..............3. - - - .....2.. - - - - - - ..........1.........",
    ".1.....3......2..... - - - - - - - - - - ......2......3......",
    "...........2.....3.1 - - - .....3.. - - - - - - ..3..1........4.2..",
    "..3....1..2......... - - - - - - - - - - ......2......3......",
    ".....2.......3..1... - - - - - - - - - - ...2.......1........",
    "..1......3......2..4 - 3....... ..2..... - - - - - - - ........3.........",
    ".3...2.....1...3.... - - - - - - - - - - ..2.....3.........3.",
    "..2.4..1.3.2..3..1.2 3....... 2....... - .3...... 2....... 3....... - .2...... 2....... - .2.4.2..1.3..2...3.",
    "....3.......2....... - - - - - - - - - - .......3........2...",
    ".2........3....1.... - - - - - - - - - - ....................",
    "......2........3.... - - - - - - - - - - ....................",
    "..3..............2.. - - - - - - - - - - ....1.......3.......",
    ".1...3....2...3..... - - - - - - - - - - ...2.......1.......4",
    "......2.1.......3... - - - - - - - - .3...... - ...2......3....1..",
    "..3.........2....... - - - - .2...... - - - - - ....................",
    ".....2.......1...3.. - - - - - - - - - - ...........3........",
    "..2.3..1.3..2.1..2.3 - - .3...... .2...... - 2....... - 2....... 3....... .2...... .2..3.1..3..2...4..",
    "....1.........2..... - - - - - - - - - - ......2.......1.....",
    "..3.......2......... - - - - - - - - - - ....................",
    ".2...3.1.2.......3.. 3....... - 2....... - - - - 2....... - .2...... ..2......1........",
    "........2.....3..... - - - - - - - - - - ..3............2....",
]

C_N_STIM, D_N_STIM, E_N_STIM, F_N_STIM = 200, 200, 200, 296

# ---------------- PSTHs ----------------
C_PSTH_T = [-0.1, -0.095, -0.09, -0.085, -0.08, -0.075, -0.07, -0.065, -0.06, -0.055, -0.05, -0.045, -0.04,
            -0.035, -0.03, -0.025, -0.02, -0.015, -0.01, -0.005, 0.0,
            0.002, 0.006, 0.011, 0.015, 0.019, 0.024, 0.028, 0.032, 0.037, 0.042, 0.048, 0.054, 0.059, 0.065,
            0.070, 0.075, 0.079, 0.083, 0.087,
            0.092, 0.097, 0.102, 0.107, 0.112, 0.117, 0.122, 0.127, 0.132, 0.137, 0.142, 0.147, 0.151,
            0.154, 0.158, 0.161, 0.165, 0.170, 0.175, 0.180, 0.186, 0.191, 0.196, 0.202, 0.208, 0.214, 0.219,
            0.223, 0.227, 0.231,
            0.236, 0.241, 0.246, 0.251, 0.256, 0.261, 0.266, 0.271, 0.276, 0.281, 0.286, 0.291, 0.296, 0.300,
            0.303, 0.307, 0.311, 0.316, 0.321, 0.326, 0.331, 0.336, 0.341, 0.346, 0.352, 0.357, 0.362, 0.368,
            0.373, 0.378, 0.382,
            0.387, 0.392, 0.397, 0.402, 0.407, 0.412, 0.417, 0.422, 0.427, 0.432, 0.437, 0.442, 0.447, 0.452,
            0.455, 0.459, 0.463, 0.468, 0.474, 0.480, 0.486, 0.492, 0.498, 0.504, 0.510, 0.516, 0.521, 0.526,
            0.531, 0.535,
            0.540, 0.545, 0.550, 0.555, 0.560, 0.565, 0.570, 0.575, 0.580, 0.585, 0.590, 0.595, 0.600,
            0.603, 0.607, 0.611, 0.616, 0.622, 0.628, 0.634, 0.640, 0.646, 0.652, 0.658, 0.664, 0.670, 0.675,
            0.680, 0.685,
            0.690, 0.695, 0.700, 0.705, 0.710, 0.715, 0.720, 0.725, 0.730, 0.735, 0.740, 0.745, 0.750, 0.755,
            0.760, 0.765, 0.770, 0.775, 0.780, 0.785, 0.790, 0.795, 0.800, 0.805, 0.810, 0.815, 0.820, 0.825,
            0.830, 0.835, 0.840, 0.845, 0.850]
C_PSTH_V = [1.2, 2.0, 1.6, 1.1, 1.5, 0.9, 1.3, 1.7, 1.0, 1.4, 0.8, 1.2, 1.6, 1.0, 1.3, 0.9, 1.5, 1.1, 1.4, 1.0, 1.3,
            1.5, 10.0, 14.6, 13.5, 12.0, 9.5, 8.3, 7.5, 6.5, 5.8, 5.2, 4.6, 4.4, 4.2, 4.0, 3.6, 3.2, 1.5, 0.3,
            0.4, 0.6, 0.3, 0.7, 0.4, 0.8, 0.5, 0.6, 0.3, 0.7, 0.5, 0.9, 1.5,
            4.5, 8.0, 8.7, 8.0, 7.3, 6.6, 6.1, 6.0, 5.5, 4.9, 4.4, 4.0, 3.3, 2.8, 2.3, 1.0, 0.3,
            0.5, 0.3, 0.6, 0.4, 0.5, 0.3, 0.6, 0.4, 0.7, 0.4, 0.5, 0.6, 0.4, 0.8,
            3.0, 7.9, 7.6, 6.6, 6.2, 5.6, 5.1, 4.9, 4.8, 4.6, 4.2, 3.5, 3.0, 2.4, 1.9, 1.4, 0.4,
            0.3, 0.5, 0.4, 0.6, 0.3, 0.5, 0.4, 0.6, 0.3, 0.5, 0.4, 0.6, 0.4, 1.0,
            5.0, 8.2, 7.8, 7.2, 6.5, 5.6, 5.0, 4.5, 4.1, 3.7, 3.5, 3.6, 3.2, 2.6, 1.2, 0.3,
            0.4, 0.6, 0.3, 0.5, 0.4, 0.5, 0.3, 0.6, 0.4, 0.5, 0.3, 0.6, 0.9,
            3.5, 7.2, 6.8, 6.2, 5.8, 5.2, 4.7, 4.2, 3.8, 3.4, 3.0, 2.6, 2.1, 1.6, 0.8, 0.3,
            0.4, 0.6, 0.3, 0.7, 0.5, 0.8, 0.4, 0.9, 0.6, 0.8, 0.5, 1.0, 0.6, 0.9, 0.5, 1.1, 0.7, 0.9, 0.6, 1.2,
            0.7, 1.0, 0.6, 1.1, 0.8, 1.3, 0.7, 1.2, 0.9, 1.5, 1.0, 1.6, 1.3]

D_PSTH_T = [-0.1, -0.097, -0.093, -0.09, -0.087, -0.084, -0.081, -0.078, -0.075, -0.072, -0.07, -0.067, -0.064,
            -0.061, -0.058, -0.056, -0.053, -0.05, -0.048, -0.045, -0.042, -0.039, -0.036, -0.033, -0.03,
            -0.027, -0.024, -0.021, -0.018, -0.015, -0.012, -0.009, -0.006, -0.003, 0.0, 0.003, 0.006, 0.01,
            0.043, 0.046, 0.049, 0.052, 0.089,
            0.092, 0.094, 0.097, 0.1, 0.103, 0.106, 0.109, 0.112, 0.115, 0.118, 0.121, 0.124, 0.127, 0.13,
            0.133, 0.136, 0.139, 0.142, 0.145, 0.148, 0.151, 0.154, 0.157, 0.163, 0.166, 0.169, 0.222,
            0.225, 0.228, 0.231, 0.234, 0.237, 0.24, 0.243, 0.246, 0.249, 0.252, 0.255, 0.258, 0.261, 0.264,
            0.267, 0.27, 0.273, 0.276, 0.279, 0.282, 0.285, 0.288, 0.291, 0.294, 0.297, 0.3, 0.303, 0.307, 0.372,
            0.375, 0.378, 0.381, 0.384, 0.387, 0.39, 0.393, 0.396, 0.399, 0.402, 0.405, 0.408, 0.411, 0.414,
            0.417, 0.42, 0.423, 0.426, 0.429, 0.432, 0.435, 0.438, 0.441, 0.444, 0.447, 0.45, 0.525,
            0.528, 0.531, 0.534, 0.537, 0.54, 0.543, 0.546, 0.549, 0.552, 0.555, 0.558, 0.561, 0.564, 0.567,
            0.57, 0.573, 0.576, 0.579, 0.582, 0.585, 0.588, 0.591, 0.595, 0.6, 0.64, 0.644, 0.648, 0.652, 0.676,
            0.679, 0.682, 0.685, 0.688, 0.691, 0.694, 0.697, 0.7, 0.703, 0.706, 0.709, 0.712, 0.715, 0.718,
            0.721, 0.724, 0.727, 0.73, 0.733, 0.736, 0.739, 0.742, 0.745, 0.748, 0.751, 0.754, 0.757, 0.76,
            0.763, 0.766, 0.769, 0.772, 0.775, 0.778, 0.781, 0.784, 0.787, 0.79, 0.793, 0.796, 0.799, 0.802,
            0.805, 0.808, 0.811, 0.814, 0.817, 0.82, 0.823, 0.826, 0.829, 0.832, 0.835, 0.838, 0.841, 0.844,
            0.847, 0.85]
D_PSTH_V = [1.0, 1.1, 0.9, 0.75, 0.6, 0.7, 0.55, 0.9, 1.4, 1.6, 1.8, 1.6, 1.7, 1.45, 1.3, 1.05, 1.25, 1.1, 1.35,
            1.1, 1.0, 0.88, 1.2, 1.4, 1.15, 0.98, 1.2, 1.05, 1.3, 1.0, 0.8, 1.0, 1.15, 1.25, 1.1, 0.6, 0.2, 0.0,
            0.0, 0.12, 0.15, 0.0, 0.0,
            0.7, 0.95, 1.2, 1.0, 0.85, 1.0, 0.9, 1.1, 0.95, 0.85, 1.1, 1.15, 0.95, 1.0, 0.9, 1.2, 1.05, 1.15,
            1.2, 1.0, 0.8, 0.4, 0.0, 0.0, 0.1, 0.0, 0.0,
            0.2, 0.6, 0.8, 1.0, 1.25, 1.0, 0.8, 0.72, 0.9, 1.0, 1.2, 1.3, 1.4, 1.2, 0.95, 1.1, 1.15, 0.9, 1.0,
            1.2, 1.1, 0.9, 0.8, 0.7, 0.65, 0.5, 0.2, 0.0, 0.0,
            0.2, 0.3, 0.5, 0.55, 0.45, 0.6, 0.75, 0.6, 0.7, 0.65, 0.8, 0.9, 1.0, 0.85, 0.8, 0.95, 1.05, 0.9,
            0.75, 0.85, 0.9, 0.8, 0.7, 0.5, 0.2, 0.0, 0.0,
            0.15, 0.35, 0.55, 0.5, 0.6, 0.75, 0.87, 0.8, 0.72, 0.85, 0.95, 0.8, 0.65, 0.75, 0.8, 0.7, 0.62,
            0.56, 0.6, 0.5, 0.4, 0.3, 0.15, 0.0, 0.0, 0.1, 0.12, 0.0, 0.0,
            0.2, 0.5, 0.64, 0.75, 0.83, 0.7, 0.95, 1.0, 0.85, 0.8, 0.9, 1.05, 0.8, 0.75, 0.9, 0.8, 1.0, 1.1,
            0.85, 0.8, 1.0, 1.1, 1.05, 0.9, 1.15, 1.3, 1.1, 0.9, 1.0, 1.2, 1.0, 0.85, 1.05, 1.2, 1.25, 1.0,
            0.95, 1.1, 0.9, 1.2, 1.4, 1.35, 1.5, 1.6, 1.2, 0.87, 0.75, 0.64, 0.7, 0.8, 0.65, 0.5, 0.48, 0.6,
            0.72, 0.65, 0.6, 0.7]

E_PSTH_T = [-0.09, -0.087, -0.084, -0.081, -0.078, -0.075, -0.072, -0.069, -0.066, -0.063, -0.06, -0.057,
            -0.054, -0.051, -0.048, -0.045, -0.042, -0.039, -0.036, -0.033, -0.03, -0.027, -0.024, -0.021,
            -0.018, -0.015, -0.012, -0.009, -0.006, -0.003, 0.0,
            0.003, 0.006, 0.009, 0.012, 0.014, 0.017, 0.02, 0.023, 0.026, 0.029, 0.032, 0.035, 0.038,
            0.042, 0.045, 0.048, 0.051, 0.054, 0.057, 0.06, 0.063, 0.066, 0.069, 0.072, 0.076,
            0.082, 0.085, 0.088, 0.091, 0.094, 0.097, 0.1, 0.103, 0.106, 0.109, 0.112, 0.116,
            0.122, 0.125, 0.128, 0.131, 0.134, 0.137, 0.14, 0.143, 0.146, 0.149, 0.152, 0.156,
            0.162, 0.165, 0.168, 0.171, 0.174, 0.177, 0.18, 0.183, 0.186, 0.189, 0.192, 0.196,
            0.202, 0.205, 0.208, 0.211, 0.214, 0.217, 0.22, 0.223, 0.226, 0.229, 0.232, 0.236,
            0.242, 0.245, 0.248, 0.251, 0.254, 0.257, 0.26, 0.263, 0.266, 0.269, 0.272, 0.276,
            0.282, 0.285, 0.288, 0.291, 0.294, 0.297, 0.3, 0.303, 0.306, 0.309, 0.312, 0.316,
            0.322, 0.325, 0.328, 0.331, 0.334, 0.337, 0.34, 0.343, 0.346, 0.349, 0.352, 0.356,
            0.362, 0.365, 0.368, 0.371, 0.374, 0.377, 0.38, 0.383, 0.386, 0.389, 0.392, 0.396,
            0.4, 0.403, 0.406, 0.409, 0.412, 0.415, 0.418, 0.421, 0.424, 0.427, 0.43, 0.433, 0.436, 0.439,
            0.442, 0.445, 0.448, 0.451, 0.454, 0.457, 0.46, 0.463, 0.466, 0.469, 0.472, 0.475, 0.478, 0.481,
            0.484, 0.487, 0.49, 0.493, 0.496, 0.499]
E_PSTH_V = [1.2, 0.9, 1.3, 0.8, 1.1, 0.9, 1.2, 0.8, 1.0, 1.3, 0.9, 1.1, 0.8, 1.2, 1.0, 1.3, 0.9, 1.1, 0.8, 1.2,
            1.0, 1.3, 0.9, 1.1, 0.8, 1.2, 1.0, 1.3, 0.9, 1.1, 1.0,
            3.0, 8.0, 13.0, 16.0, 16.5, 15.0, 13.5, 10.0, 6.0, 3.5, 1.8, 0.8, 0.5,
            1.0, 2.6, 5.2, 7.8, 9.4, 9.9, 9.1, 6.8, 4.0, 1.9, 0.8, 0.4,
            1.1, 2.4, 4.9, 7.4, 8.7, 9.1, 8.5, 6.3, 3.7, 1.7, 0.7, 0.4,
            0.9, 2.5, 5.0, 7.5, 8.8, 9.1, 8.4, 6.2, 3.6, 1.8, 0.8, 0.5,
            1.0, 2.7, 5.4, 8.0, 9.5, 9.9, 9.2, 6.9, 4.1, 2.0, 0.9, 0.4,
            1.1, 2.6, 5.2, 7.7, 9.1, 9.5, 8.8, 6.5, 3.9, 1.8, 0.8, 0.4,
            0.9, 2.5, 5.0, 7.4, 8.8, 9.1, 8.5, 6.3, 3.7, 1.7, 0.8, 0.5,
            1.0, 2.4, 4.9, 7.5, 8.7, 9.1, 8.4, 6.2, 3.6, 1.8, 0.7, 0.4,
            1.0, 2.3, 4.5, 6.8, 7.9, 8.3, 7.7, 5.8, 3.4, 1.6, 0.7, 0.4,
            1.0, 2.5, 5.0, 7.5, 8.7, 9.1, 8.4, 6.2, 3.6, 1.7, 0.8, 0.5,
            0.6, 0.4, 0.7, 0.5, 0.8, 0.4, 0.6, 0.5, 0.7, 0.4, 0.8, 0.5, 0.6, 0.9, 0.5, 0.7, 0.4, 0.6, 0.8, 0.5,
            0.7, 0.4, 0.6, 0.9, 0.5, 0.7, 0.5, 0.8, 0.4, 0.7, 0.5, 0.8, 0.6, 0.9]

F_PSTH_T = [-0.09, -0.087, -0.085, -0.082, -0.08, -0.077, -0.075, -0.073, -0.07, -0.067, -0.064, -0.061, -0.059,
            -0.057, -0.055, -0.052, -0.05, -0.048, -0.045, -0.043, -0.041, -0.038, -0.035, -0.033, -0.03,
            -0.028, -0.025, -0.022, -0.019, -0.016, -0.014, -0.011, -0.009, -0.006, -0.004, -0.001, 0.001,
            0.004, 0.007, 0.009, 0.012, 0.015,
            0.028, 0.031, 0.033, 0.036, 0.04, 0.043, 0.046, 0.048,
            0.07, 0.073, 0.076, 0.079, 0.081, 0.084, 0.087, 0.09, 0.094,
            0.115, 0.118, 0.121, 0.124, 0.127, 0.13, 0.133, 0.136, 0.14,
            0.155, 0.158, 0.161, 0.163, 0.166, 0.169, 0.172, 0.176,
            0.188, 0.191, 0.194, 0.198, 0.201, 0.205, 0.208, 0.211, 0.215,
            0.238, 0.241, 0.244, 0.246, 0.249, 0.252, 0.255, 0.258,
            0.275, 0.279, 0.282, 0.285, 0.288, 0.291, 0.294,
            0.317, 0.32, 0.323, 0.327, 0.331, 0.334, 0.337, 0.341,
            0.357, 0.36, 0.363, 0.365, 0.368, 0.371, 0.375, 0.378, 0.395,
            0.398, 0.401, 0.404, 0.407, 0.41, 0.413, 0.416, 0.419, 0.422, 0.425, 0.428, 0.431, 0.434, 0.437,
            0.44, 0.443, 0.446, 0.449, 0.452, 0.455, 0.458, 0.461, 0.464, 0.467, 0.47, 0.473, 0.476, 0.479,
            0.482, 0.485, 0.488, 0.491, 0.494, 0.497, 0.499]
F_PSTH_V = [0.57, 0.85, 1.11, 1.0, 0.99, 1.34, 1.2, 1.11, 1.3, 1.55, 1.77, 1.5, 1.26, 1.05, 0.91, 1.0, 0.95,
            1.03, 1.15, 1.25, 1.34, 1.45, 1.59, 1.35, 1.11, 1.0, 0.91, 0.98, 1.03, 0.95, 0.88, 1.05, 1.19,
            1.25, 1.34, 1.25, 1.19, 0.88, 0.65, 0.41, 0.2, 0.0,
            0, 0.1, 0.05, 0.2, 0.4, 0.3, 0.1, 0,
            0, 0.15, 0.3, 0.45, 0.53, 0.35, 0.2, 0.08, 0,
            0, 0.15, 0.3, 0.42, 0.45, 0.35, 0.38, 0.15, 0,
            0, 0.2, 0.45, 0.57, 0.4, 0.25, 0.08, 0,
            0, 0.08, 0.04, 0.1, 0.3, 0.45, 0.3, 0.12, 0,
            0, 0.25, 0.5, 0.64, 0.5, 0.3, 0.1, 0,
            0, 0.15, 0.3, 0.41, 0.28, 0.1, 0,
            0, 0.12, 0.26, 0.2, 0.14, 0.2, 0.1, 0,
            0, 0.25, 0.45, 0.57, 0.45, 0.2, 0.05, 0, 0,
            0.1, 0.2, 0.26, 0.4, 0.5, 0.57, 0.65, 0.75, 0.95, 1.2, 0.95, 0.75, 0.72, 0.8, 0.78, 0.85, 0.88,
            0.8, 0.9, 0.95, 0.85, 0.98, 0.9, 0.95, 0.85, 0.9, 1.05, 1.1, 0.95, 1.1, 1.0, 1.05, 0.9, 0.95, 0.88]

# ---------------- layout geometry (pixels) ----------------
LEFT = (52.5, 332.0)
RIGHT = (423.7, 703.7)
TRACE_Y = (4.0, 72.0)
TOP_RASTER = (123.3, 355.0)
TOP_PSTH = (377.7, 464.3)
BOT_RASTER = (548.3, 780.0)
BOT_PSTH = (801.7, 887.7)
TRACE_YRANGE = [-0.43, 0.30]
STIM_BAR_MV = -0.36
SCALE_T0, SCALE_V0 = 0.734, -0.41


def dom_x(c):
    return [c[0] / W, c[1] / W]


def dom_y(r):
    return [1 - r[1] / H, 1 - r[0] / H]


def frame(**kw):
    d = dict(showline=True, linecolor='black', linewidth=1, mirror='ticks', ticks='inside', ticklen=4,
             tickwidth=1, tickcolor='black', showgrid=False, zeroline=False, fixedrange=True,
             automargin=False, tickfont=dict(size=14, color='black', family=FONT))
    d.update(kw)
    return d


def hidden(**kw):
    d = dict(visible=False, fixedrange=True, automargin=False)
    d.update(kw)
    return d


fig = go.Figure()
shapes = []
annotations = []


def add_trace_panel(ax, env_hi, env_lo, spk_t, spk_top, spk_bot):
    xa, ya = 'x' + ax, 'y' + ax
    fringe = 0.022
    fig.add_trace(go.Scatter(
        x=ENV_T + ENV_T[::-1],
        y=[h + fringe for h in env_hi] + [l - fringe for l in env_lo][::-1],
        fill='toself', fillcolor='rgba(0,0,0,0.35)', line=dict(width=0), mode='lines',
        xaxis=xa, yaxis=ya, hoverinfo='skip'))
    fig.add_trace(go.Scatter(
        x=ENV_T + ENV_T[::-1], y=env_hi + env_lo[::-1],
        fill='toself', fillcolor='black', line=dict(width=0.5, color='black'), mode='lines',
        xaxis=xa, yaxis=ya, hoverinfo='skip'))
    xs, ys = [], []
    for t, top, bot in zip(spk_t, spk_top, spk_bot):
        xs += [t, t, None]
        ys += [bot, top, None]
    fig.add_trace(go.Scatter(x=xs, y=ys, mode='lines', line=dict(color='black', width=1),
                             xaxis=xa, yaxis=ya, hoverinfo='skip'))
    bx, by = [], []
    for on in CD_STIM_ON:
        bx += [on, on + CD_STIM_DUR, None]
        by += [STIM_BAR_MV, STIM_BAR_MV, None]
    fig.add_trace(go.Scatter(x=bx, y=by, mode='lines', line=dict(color='#8c8c8c', width=1.5),
                             xaxis=xa, yaxis=ya, hoverinfo='skip'))


def add_raster(ax, rows, seg_start, bin_w, n_stim, msize, mwidth):
    xs, ys = [], []
    step = n_stim / len(rows)
    for i, row in enumerate(rows):
        y = (i + 0.5) * step
        for seg, s0 in zip(row.split(), seg_start):
            for k, ch in enumerate(seg):
                if ch.isdigit():
                    xs.append(-0.1 + (s0 + k) * bin_w + int(ch) * 0.001)
                    ys.append(y)
    fig.add_trace(go.Scatter(x=xs, y=ys, mode='markers', xaxis='x' + ax, yaxis='y' + ax,
                             marker=dict(symbol='line-ns', size=msize, color='black',
                                         line=dict(width=mwidth, color='black')),
                             hoverinfo='skip'))


def add_psth(ax, t, v, width):
    fig.add_trace(go.Scatter(x=t, y=v, mode='lines', line=dict(color='black', width=width),
                             xaxis='x' + ax, yaxis='y' + ax, hoverinfo='skip'))


def add_bands(ax, onsets, dur):
    for on in onsets:
        shapes.append(dict(type='rect', xref='x' + ax, yref='y' + ax + ' domain', x0=on, x1=on + dur,
                           y0=0, y1=1, fillcolor=GRAY, line=dict(width=0), layer='below'))


def text(s, px, py, size, angle=0, xanchor='center'):
    annotations.append(dict(text=s, x=px / W, y=1 - py / H, xref='paper', yref='paper', showarrow=False,
                            font=dict(size=size, color='black', family=FONT), textangle=angle,
                            xanchor=xanchor, yanchor='middle'))


# A and B
add_trace_panel('', A_HI, A_LO, A_SPK_T, A_SPK_TOP, A_SPK_BOT)
add_trace_panel('2', B_HI, B_LO, B_SPK_T, B_SPK_TOP, B_SPK_BOT)
fig.add_trace(go.Scatter(x=[SCALE_T0, SCALE_T0, SCALE_T0 + SCALE_S],
                         y=[SCALE_V0 + SCALE_MV, SCALE_V0, SCALE_V0], mode='lines',
                         line=dict(color='black', width=1.2), xaxis='x', yaxis='y', hoverinfo='skip'))

# rasters
add_raster('3', C_ROWS, CD_SEG_START, CD_BIN, C_N_STIM, 3.6, 1.5)
add_raster('5', D_ROWS, CD_SEG_START, CD_BIN, D_N_STIM, 2.6, 1)
add_raster('7', E_ROWS, EF_SEG_START, EF_BIN, E_N_STIM, 3.6, 1.3)
add_raster('9', F_ROWS, EF_SEG_START, EF_BIN, F_N_STIM, 2.6, 1)

# PSTHs
add_psth('4', C_PSTH_T, C_PSTH_V, 2)
add_psth('6', D_PSTH_T, D_PSTH_V, 1.8)
add_psth('8', E_PSTH_T, E_PSTH_V, 3)
add_psth('10', F_PSTH_T, F_PSTH_V, 1.8)

for ax in ['3', '4', '5', '6']:
    add_bands(ax, CD_STIM_ON, CD_STIM_DUR)
for ax in ['7', '8', '9', '10']:
    add_bands(ax, EF_STIM_ON, EF_STIM_DUR)

# text
text('<b>A</b>', 7.5, 12.5, 18)
text('<b>B</b>', 377, 11, 18)
text('<b>C</b>', 7, 113, 18)
text('<b>D</b>', 375.5, 112, 18)
text('<b>E</b>', 7, 528, 18)
text('<b>F</b>', 376, 528, 18)
text('0.25mV', 301.7, 61, 13, xanchor='left')
text('50ms', 309, 88, 13)
for xc in (14, 384):
    text('Stimulus Number', xc, 239, 15.5, angle=-90)
    text('Normalized PSTH', xc, 421, 15.5, angle=-90)
    text('Stimulus Number', xc, 664, 15.5, angle=-90)
    text('Normalized PSTH', xc, 846, 15.5, angle=-90)
for xc in ((LEFT[0] + LEFT[1]) / 2, (RIGHT[0] + RIGHT[1]) / 2):
    text('Time from stimulus onset (s)', xc, 492, 15.5)
    text('Time from stimulus onset (s)', xc, 917.5, 15.5)

axes = dict(
    xaxis=hidden(domain=dom_x(LEFT), range=CD_XRANGE, anchor='y'),
    yaxis=hidden(domain=dom_y(TRACE_Y), range=TRACE_YRANGE, anchor='x'),
    xaxis2=hidden(domain=dom_x(RIGHT), range=CD_XRANGE, anchor='y2'),
    yaxis2=hidden(domain=dom_y(TRACE_Y), range=TRACE_YRANGE, anchor='x2'),

    xaxis3=frame(domain=dom_x(LEFT), range=CD_XRANGE, tickvals=CD_XTICKS, showticklabels=False, anchor='y3'),
    yaxis3=frame(domain=dom_y(TOP_RASTER), range=[0, C_N_STIM], tickvals=[0, 50, 100, 150, 200], anchor='x3'),
    xaxis4=frame(domain=dom_x(LEFT), range=CD_XRANGE, tickvals=CD_XTICKS, ticktext=CD_XTEXT, anchor='y4'),
    yaxis4=frame(domain=dom_y(TOP_PSTH), range=[0, 20], tickvals=[0, 10, 20], anchor='x4'),

    xaxis5=frame(domain=dom_x(RIGHT), range=CD_XRANGE, tickvals=CD_XTICKS, showticklabels=False, anchor='y5'),
    yaxis5=frame(domain=dom_y(TOP_RASTER), range=[0, D_N_STIM], tickvals=[0, 50, 100, 150, 200], anchor='x5'),
    xaxis6=frame(domain=dom_x(RIGHT), range=CD_XRANGE, tickvals=CD_XTICKS, ticktext=CD_XTEXT, anchor='y6'),
    yaxis6=frame(domain=dom_y(TOP_PSTH), range=[0, 2], tickvals=[0, 1, 2], anchor='x6'),

    xaxis7=frame(domain=dom_x(LEFT), range=EF_XRANGE, tickvals=EF_XTICKS, showticklabels=False, anchor='y7'),
    yaxis7=frame(domain=dom_y(BOT_RASTER), range=[0, E_N_STIM],
                 tickvals=[0, 20, 40, 60, 80, 100, 120, 140, 160, 180, 200], anchor='x7'),
    xaxis8=frame(domain=dom_x(LEFT), range=EF_XRANGE, tickvals=EF_XTICKS, ticktext=EF_XTEXT, anchor='y8',
                 ticklabelstandoff=2),
    yaxis8=frame(domain=dom_y(BOT_PSTH), range=[0, 20], tickvals=[0, 10, 20], anchor='x8'),

    xaxis9=frame(domain=dom_x(RIGHT), range=EF_XRANGE, tickvals=EF_XTICKS, showticklabels=False, anchor='y9'),
    yaxis9=frame(domain=dom_y(BOT_RASTER), range=[0, F_N_STIM], tickvals=[0, 50, 100, 150, 200, 250], anchor='x9'),
    xaxis10=frame(domain=dom_x(RIGHT), range=EF_XRANGE, tickvals=EF_XTICKS, ticktext=EF_XTEXT, anchor='y10',
                  ticklabelstandoff=2),
    yaxis10=frame(domain=dom_y(BOT_PSTH), range=[0, 2], tickvals=[0, 1, 2], anchor='x10'),
)

fig.update_layout(
    width=W, height=H,
    margin=dict(l=0, r=0, t=0, b=0, pad=0),
    paper_bgcolor='white', plot_bgcolor='white',
    showlegend=False,
    font=dict(family=FONT, color='black'),
    shapes=shapes,
    annotations=annotations,
    **axes,
)

# page body has a default 8px margin; drop it so the figure sits at the window origin
fig.write_html("out.html", config={'displayModeBar': False, 'staticPlot': True},
               post_script="document.body.style.margin='0px';document.body.style.overflow='hidden';")
